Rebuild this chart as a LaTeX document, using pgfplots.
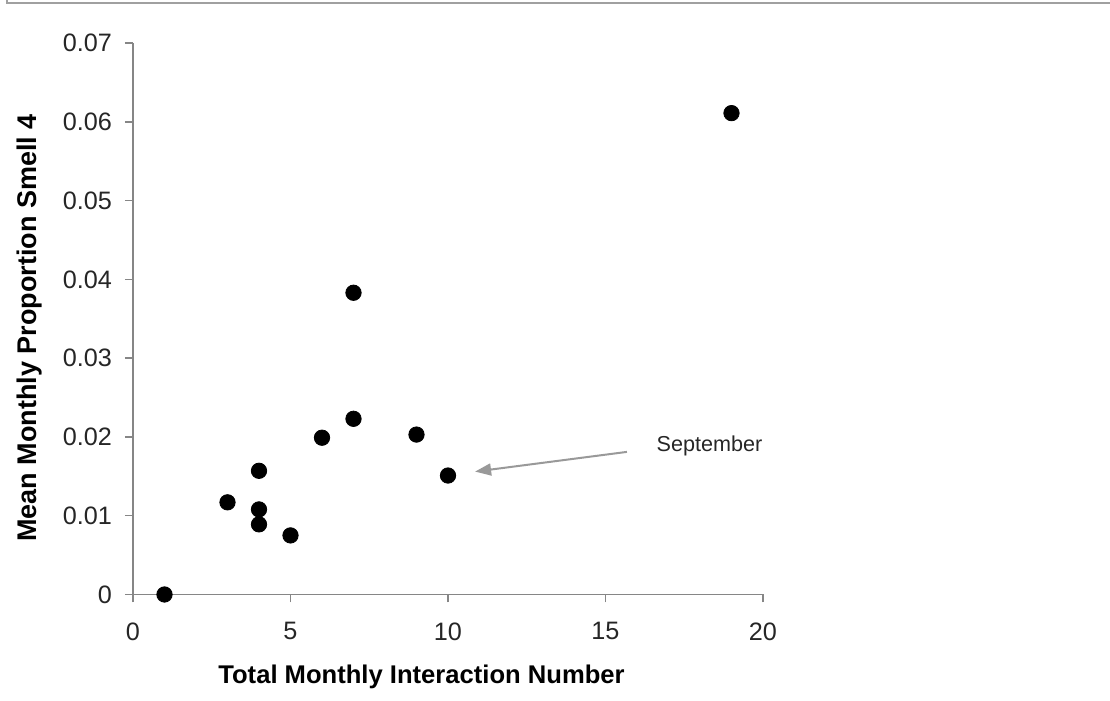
\documentclass[border=0pt]{standalone}
\usepackage{fontspec}
\setmainfont{Liberation Sans}
\usepackage{pgfplots}
\pgfplotsset{compat=1.18}
\usetikzlibrary{arrows.meta}
\definecolor{axgray}{HTML}{868686}
\definecolor{framegray}{HTML}{A0A0A0}
\definecolor{arrgray}{HTML}{999999}
\begin{document}
\begin{tikzpicture}[x=0.5pt,y=0.5pt]
\useasboundingbox (0,0) rectangle (1110,701);
\draw[framegray, line width=1pt] (7,701) -- (7,698) -- (1110,698);
\begin{axis}[
  at={(66.5pt,53.25pt)}, anchor=south west,
  scale only axis, width=315pt, height=275.75pt,
  xmin=0, xmax=20, ymin=0, ymax=0.07,
  axis x line*=bottom, axis y line*=left,
  axis line style={axgray, line width=0.75pt},
  every tick/.style={axgray, line width=0.75pt},
  tick align=outside, major tick length=4pt,
  scaled ticks=false,
  xtick={0,5,10,15,20},
  ytick={0,0.01,0.02,0.03,0.04,0.05,0.06,0.07},
  yticklabels={0,0.01,0.02,0.03,0.04,0.05,0.06,0.07},
  /pgf/number format/assume math mode=true,
  tick label style={font=\fontsize{12.6}{14}\selectfont, text=black!85},
  xticklabel style={yshift=-6.5pt},
  yticklabel style={xshift=-3pt},
  clip=false,
]
\addplot[only marks, mark=*, mark size=3.85pt, mark options={fill=black, draw=black}] coordinates {
(1,0) (3,0.0117) (4,0.0157) (4,0.0108) (4,0.0089) (5,0.0075)
(6,0.0199) (7,0.0223) (7,0.0383) (9,0.0203) (10,0.0151) (19,0.0611)
};
\draw[arrgray, line width=1pt, -{Triangle[length=8pt,width=6pt]}] (axis cs:15.68,0.0181) -- (axis cs:10.86,0.0156);
\node[font=\fontsize{10.8}{12}\selectfont, text=black!85] at (axis cs:18.3,0.0188) {September};
\end{axis}
\node[font=\bfseries\fontsize{12.8}{14}\selectfont] at (421.5,24) {Total Monthly Interaction Number};
\node[font=\bfseries\fontsize{13.5}{15}\selectfont, rotate=90] at (30,373) {Mean Monthly Proportion Smell 4};
\end{tikzpicture}
\end{document}
